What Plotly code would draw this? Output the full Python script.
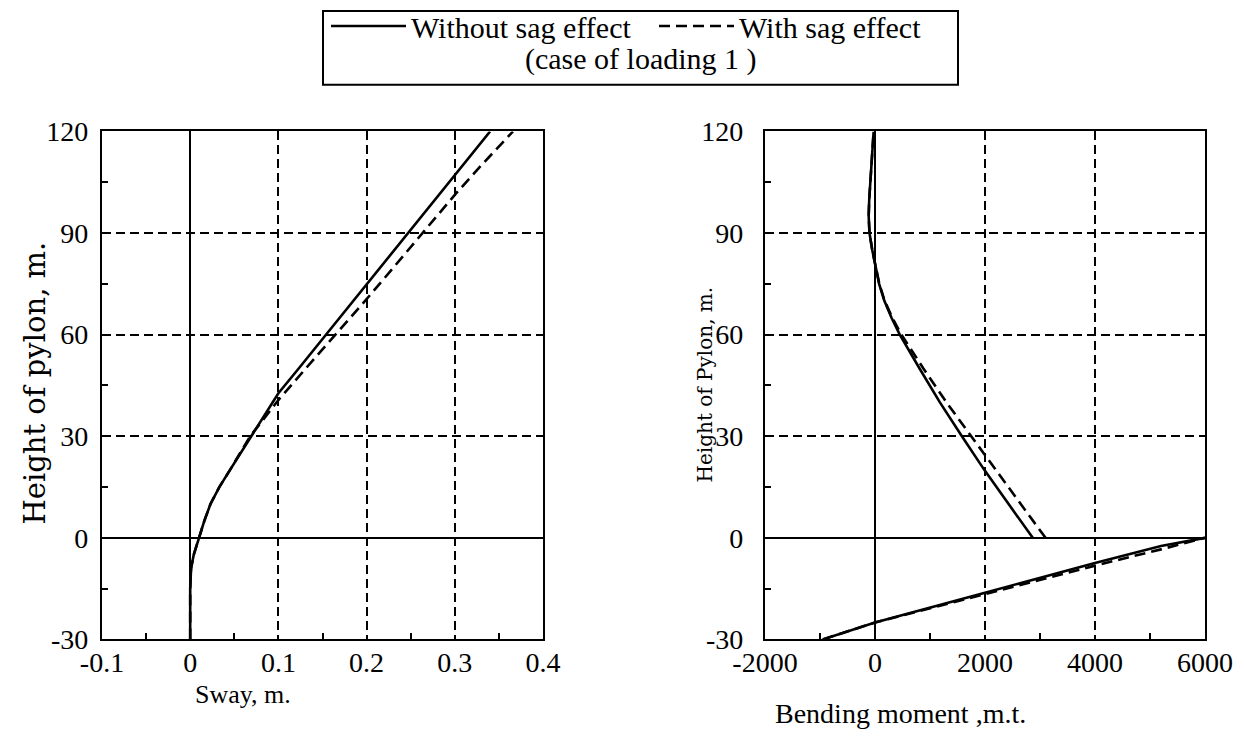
import plotly.graph_objects as go

W, H = 1245, 751

# ---------------- data: left panel (sway) ----------------
sway_height_without = [-30, -15, -9, -5, 0, 5, 10, 15, 20, 25, 30, 36, 42.7, 50, 60, 74.5, 90, 107, 120]
sway_without = [0, 0, 0.001, 0.004, 0.010, 0.016, 0.023, 0.033, 0.045, 0.057, 0.069, 0.084, 0.100, 0.123, 0.154, 0.200, 0.248, 0.300, 0.340]

sway_height_with = [-30, -15, -9, -5, 0, 5, 10, 15, 20, 25, 30, 35, 40.7, 50, 60, 70.5, 80, 90, 101.3, 110, 120]
sway_with = [0, 0, 0.001, 0.004, 0.010, 0.016, 0.023, 0.033, 0.045, 0.057, 0.068, 0.083, 0.100, 0.131, 0.165, 0.200, 0.231, 0.263, 0.300, 0.330, 0.366]

# ---------------- data: right panel (bending moment) ----------------
moment_height_without = [-30, -25, -16.2, -7.4, -2.4, 0, None,
                         0, 10, 20, 30, 40, 50, 60, 65, 70, 75, 80, 85, 90, 95, 100, 110, 120]
moment_without = [-950, 0, 2000, 4000, 5200, 6000, None,
                  2868, 2430, 1990, 1580, 1180, 810, 450, 300, 170, 75, 10, -50, -100, -115, -105, -70, -25]

moment_height_with = [-30, -25, -16.6, -8.2, -3.4, 0, None,
                      0, 10, 20, 30, 40, 50, 60, 65, 70, 75, 80, 85, 90, 95, 100, 110, 120]
moment_with = [-950, 0, 2000, 4000, 5200, 6000, None,
               3100, 2650, 2190, 1750, 1300, 880, 480, 315, 175, 78, 10, -50, -100, -115, -105, -70, -25]

# ---------------- ticks ----------------
sway_ticks = [-0.1, 0, 0.1, 0.2, 0.3, 0.4]
sway_tick_text = ["-0.1", "0", "0.1", "0.2", "0.3", "0.4"]
moment_ticks = [-2000, 0, 2000, 4000, 6000]
moment_tick_text = ["-2000", "0", "2000", "4000", "6000"]
height_ticks = [-30, 0, 30, 60, 90, 120]
height_tick_text = ["-30", "0", "30", "60", "90", "120"]

series_names = ["Without sag effect", "With sag effect"]
legend_note = "(case of loading 1 )"
x_titles = ["Sway, m.", "Bending moment ,m.t."]
y_titles = ["Height of pylon, m.", "Height of Pylon, m."]


def mids(v):
    return [(a + b) / 2 for a, b in zip(v[:-1], v[1:])]


SERIF = "Liberation Serif"
TICKFONT = dict(family=SERIF, size=28, color="black")
LINE_W = 2.6
DASH = "11px,6px"

fig = go.Figure()
fig.add_trace(go.Scatter(x=sway_without, y=sway_height_without, mode="lines",
                         line=dict(color="black", width=LINE_W), name=series_names[0],
                         xaxis="x", yaxis="y"))
fig.add_trace(go.Scatter(x=sway_with, y=sway_height_with, mode="lines",
                         line=dict(color="black", width=LINE_W, dash=DASH), name=series_names[1],
                         xaxis="x", yaxis="y"))
fig.add_trace(go.Scatter(x=moment_without, y=moment_height_without, mode="lines",
                         line=dict(color="black", width=LINE_W), name=series_names[0],
                         showlegend=False, xaxis="x2", yaxis="y2"))
fig.add_trace(go.Scatter(x=moment_with, y=moment_height_with, mode="lines",
                         line=dict(color="black", width=LINE_W, dash=DASH), name=series_names[1],
                         showlegend=False, xaxis="x2", yaxis="y2"))


def axis_common():
    return dict(showline=True, mirror=True, linecolor="black", linewidth=2.2,
                showgrid=True, gridcolor="black", gridwidth=1.5, griddash="9px,5px",
                zeroline=True, zerolinecolor="black", zerolinewidth=1.8,
                ticks="", tickfont=TICKFONT, automargin=False, fixedrange=True,
                tickmode="array")


def minor_ticks(vals):
    return dict(tickmode="array", tickvals=mids(vals), ticks="inside",
                ticklen=6, tickwidth=2, tickcolor="black", showgrid=False)


ydom = [1 - 639 / H, 1 - 129 / H]

xa = axis_common()
xa.update(domain=[102 / W, 543 / W], range=[-0.1, 0.4], tickvals=sway_ticks,
          ticktext=sway_tick_text, anchor="y", ticklabelstandoff=-3,
          minor=minor_ticks(sway_ticks))
ya = axis_common()
ya.update(domain=ydom, range=[-30, 120], tickvals=height_ticks, ticktext=height_tick_text,
          anchor="x", ticklabelstandoff=6, minor=minor_ticks(height_ticks))
xa2 = axis_common()
xa2.update(domain=[765 / W, 1205 / W], range=[-2000, 6000], tickvals=moment_ticks,
           ticktext=moment_tick_text, anchor="y2", ticklabelstandoff=-3,
           minor=minor_ticks(moment_ticks))
ya2 = axis_common()
ya2.update(domain=ydom, range=[-30, 120], tickvals=height_ticks, ticktext=height_tick_text,
           anchor="x2", ticklabelstandoff=14, minor=minor_ticks(height_ticks))


def note(text, px, py, size, family=SERIF, angle=0):
    return dict(text=text, x=px / W, y=1 - py / H, xref="paper", yref="paper",
                xanchor="center", yanchor="middle", showarrow=False, textangle=angle,
                font=dict(family=family, size=size, color="black"))


annotations = [
    note(legend_note, 641, 56, 30),
    note(x_titles[0], 243, 694, 26),
    note(x_titles[1], 900, 713, 28),
    note(y_titles[0], 35, 382, 29, family="DejaVu Serif", angle=-90),
    note(y_titles[1], 705, 383, 20, family="DejaVu Serif", angle=-90),
]

shapes = [
    dict(type="rect", xref="paper", yref="paper", x0=323 / W, x1=958 / W,
         y0=1 - 82 / H, y1=1 - 8 / H, line=dict(color="black", width=2)),
]

fig.update_layout(
    width=W, height=H,
    margin=dict(l=0, r=0, t=0, b=0),
    paper_bgcolor="white", plot_bgcolor="white",
    xaxis=xa, yaxis=ya, xaxis2=xa2, yaxis2=ya2,
    annotations=annotations, shapes=shapes,
    showlegend=True,
    legend=dict(orientation="h", x=326 / W, xanchor="left", y=1 + 3 / H, yanchor="top",
                font=dict(family=SERIF, size=30, color="black"),
                entrywidth=238, entrywidthmode="pixels", itemwidth=75,
                bgcolor="rgba(0,0,0,0)", borderwidth=0),
)

fig.write_html("out.html")
